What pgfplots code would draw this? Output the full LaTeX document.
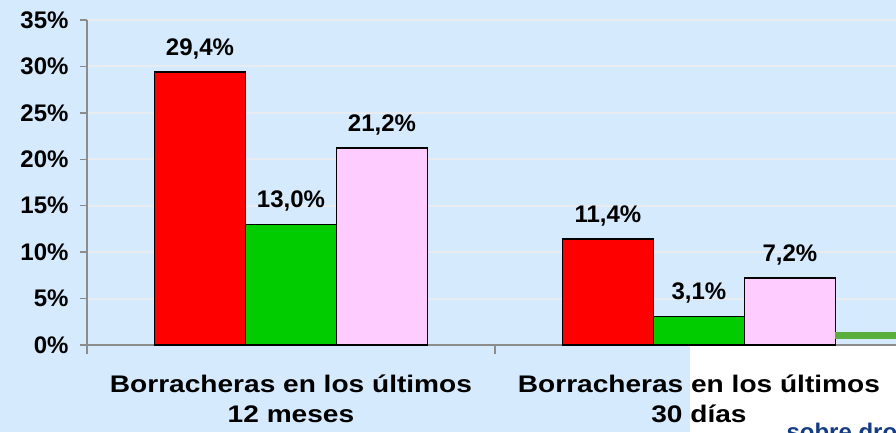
\documentclass[border=0pt]{standalone}
\usepackage{pgfplots}
\pgfplotsset{compat=1.18}
\usepackage{fontspec}
\setmainfont{Liberation Sans}
\newfontfamily\xfont[FakeStretch=1.17]{Liberation Sans}
\definecolor{bgblue}{RGB}{213,234,252}
\definecolor{gridc}{RGB}{232,236,240}
\definecolor{axgray}{RGB}{140,140,140}
\definecolor{barred}{RGB}{255,0,0}
\definecolor{bargreen}{RGB}{0,204,0}
\definecolor{barpink}{RGB}{255,204,255}
\definecolor{logogreen}{RGB}{90,175,60}
\definecolor{logoblue}{RGB}{20,60,130}
\begin{document}
\begin{tikzpicture}[x=1pt,y=1pt]
\fill[bgblue] (-87,-87) rectangle (809,345);
\fill[white] (603,-87) rectangle (809,0);
\begin{axis}[
  at={(0,0)}, anchor=south west,
  scale only axis, width=809pt, height=325pt,
  xmin=-0.5, xmax=1.483, ymin=0, ymax=35,
  axis x line*=bottom, axis y line*=left,
  axis line style={axgray, line width=1.3pt},
  every tick/.style={axgray, line width=1.3pt},
  ybar=0pt, bar width=91pt,
  xtick={0,1}, xticklabels={{Borracheras en los últimos\\12 meses},{Borracheras en los últimos\\30 días}},
  major x tick style={draw=none},
  minor xtick={-0.5,0.5,1.5},
  minor tick length=9pt,
  xticklabel style={align=center, font=\xfont\bfseries\fontsize{24}{30}\selectfont, yshift=-19pt},
  ytick={0,5,...,35},
  yticklabel={\pgfmathprintnumber{\tick}\%},
  yticklabel style={font=\bfseries\fontsize{24}{28}\selectfont, xshift=-8pt},
  major tick length=7pt,
  tick align=outside,
  /pgf/number format/assume math mode=true,
  ymajorgrids, grid style={gridc, line width=2pt},
  nodes near coords={\pgfmathprintnumber[fixed,fixed zerofill,precision=1,use comma]{\pgfplotspointmeta}\%},
  every node near coord/.append style={font=\bfseries\fontsize{24}{28}\selectfont, black, yshift=9pt},
  clip=false,
]
\addplot[fill=barred, draw=black, line width=1.3pt] coordinates {(0,29.4) (1,11.4)};
\addplot[fill=bargreen, draw=black, line width=1.3pt] coordinates {(0,13.0) (1,3.1)};
\addplot[fill=barpink, draw=black, line width=1.3pt] coordinates {(0,21.2) (1,7.2)};
\end{axis}
\fill[logogreen] (748,6) rectangle (809,13);
\node[anchor=base west, text=logoblue, font=\bfseries\fontsize{24}{28}\selectfont] at (696,-95) {sobre drogas};
\pgfresetboundingbox
\path[use as bounding box] (-87,-87) rectangle (809,345);
\end{tikzpicture}
\end{document}
